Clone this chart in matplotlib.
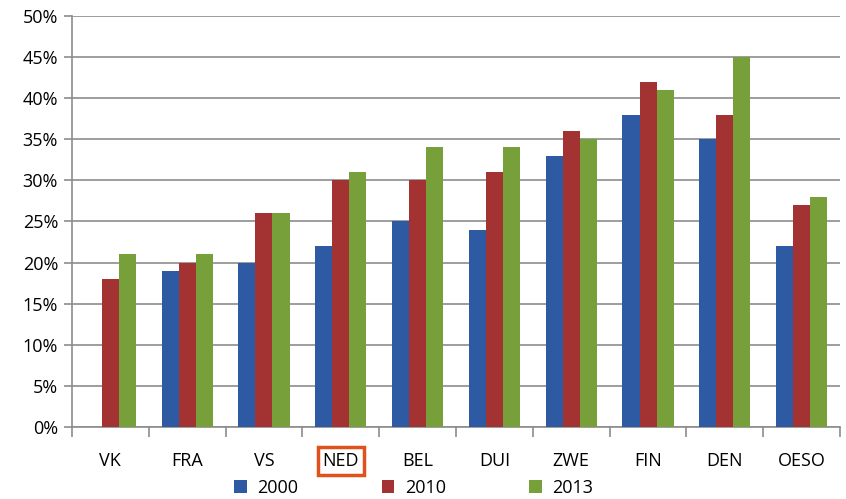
import numpy as np
import matplotlib.pyplot as plt
from matplotlib.ticker import FuncFormatter

# ── data ─────────────────────────────────────────────────────────────────────
countries = ['VK', 'FRA', 'VS', 'NED', 'BEL', 'DUI', 'ZWE', 'FIN', 'DEN', 'OESO']
years = ['2000', '2010', '2013']
v2000 = [0, 19, 20, 22, 25, 24, 33, 38, 35, 22]
v2010 = [18, 20, 26, 30, 30, 31, 36, 42, 38, 27]
v2013 = [21, 21, 26, 31, 34, 34, 35, 41, 45, 28]
colors = ['#2E5AA3', '#A33333', '#77A03B']

plt.rcParams['font.family'] = ['Open Sans', 'DejaVu Sans']

fig = plt.figure(figsize=(8.46, 4.99), dpi=100)
ax = fig.add_axes([0.085, 0.1443, 0.908, 0.8237])

x = np.arange(len(countries))
w = 0.222
for i, (vals, yr) in enumerate(zip([v2000, v2010, v2013], years)):
    ax.bar(x + (i - 1) * w, np.array(vals) / 100, w, color=colors[i],
           label=yr, zorder=3)

ax.set_xlim(-0.5, len(countries) - 0.5)
ax.set_ylim(0, 0.5)
ax.set_yticks(np.arange(0, 0.501, 0.05))
ax.yaxis.set_major_formatter(FuncFormatter(lambda v, _: f'{v * 100:.0f}%'))
ax.grid(axis='y', color='#8c8c8c', lw=1.2, zorder=0)

# category ticks sit on the group boundaries
ax.set_xticks(np.arange(-0.5, len(countries) - 0.4, 1))
ax.set_xticklabels([])
ax.set_xticks(x, minor=True)
ax.set_xticklabels(countries, minor=True)
ax.tick_params(axis='x', which='major', length=7, color='#8c8c8c', width=1.2)
ax.tick_params(axis='x', which='minor', length=0, pad=18, labelsize=13)
ax.tick_params(axis='y', length=6, color='#8c8c8c', width=1.2, labelsize=13,
               pad=4)

for s in ['top', 'right']:
    ax.spines[s].set_visible(False)
for s in ['left', 'bottom']:
    ax.spines[s].set_color('#8c8c8c')
    ax.spines[s].set_linewidth(1.2)

# NED highlighted
for lbl in ax.get_xticklabels(minor=True):
    if lbl.get_text() == 'NED':
        lbl.set_bbox(dict(boxstyle='square,pad=0.25', facecolor='none',
                          edgecolor='#E0521D', linewidth=2.5))

ax.legend(loc='center', bbox_to_anchor=(0.445, -0.148), ncol=3,
          frameon=False, fontsize=13, handlelength=0.7, handleheight=0.7,
          columnspacing=4.6, handletextpad=0.6, borderpad=0.1)

fig.savefig('out.png', dpi=100)
